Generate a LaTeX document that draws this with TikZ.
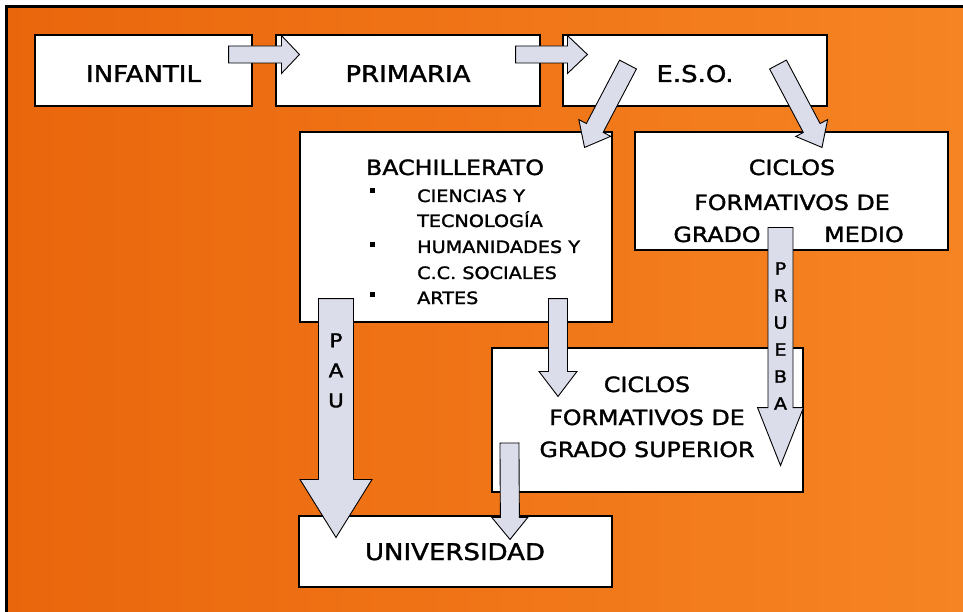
\documentclass[tikz,border=0pt]{standalone}
\usepackage{fontspec}
\setmainfont{DejaVu Sans}[FakeStretch=1.13,FakeBold=1.6]
\usetikzlibrary{calc}

\definecolor{naranja}{RGB}{234,102,12}
\definecolor{naranjaclaro}{RGB}{246,132,34}
\definecolor{flecha}{RGB}{219,221,235}

% flecha gruesa: cola, punta, medio ancho cuerpo, medio ancho punta, largo punta
\newcommand{\flechagorda}[5]{%
  \coordinate (hb) at ($(#2)!#5!(#1)$);
  \draw[fill=flecha,line width=0.9pt,line join=miter]
    ($(#1)!#3!90:(#2)$) -- ($(hb)!#3!90:(#2)$) -- ($(hb)!#4!90:(#2)$) -- (#2)
    -- ($(hb)!#4!-90:(#2)$) -- ($(hb)!#3!-90:(#2)$) -- ($(#1)!#3!-90:(#2)$) -- cycle;
}

\begin{document}
\begin{tikzpicture}[x=1pt,y=-1pt,
  caja/.style={rectangle,draw=black,line width=1.1pt,fill=white,inner sep=0pt},
  grande/.style={font=\fontsize{23}{27}\selectfont,inner sep=0pt,anchor=base},
  media/.style={font=\fontsize{21}{25}\selectfont,inner sep=0pt,anchor=base},
  chica/.style={font=\fontsize{17}{20}\selectfont,inner sep=0pt,anchor=base west},
  vineta/.style={rectangle,fill=black,minimum size=5pt,inner sep=0pt}]
\useasboundingbox (0,0) rectangle (963,612);
\fill[white] (0,0) rectangle (963,612);
\shade[left color=naranja,right color=naranjaclaro] (6,6) rectangle (963,612);
\draw[line width=3pt] (6.5,612) -- (6.5,7) -- (963,7);

% cajas
\node(INF) at (143.5,70.5) [caja,minimum width=217pt,minimum height=71pt]{};
\node(PRI) at (408,70.5) [caja,minimum width=264pt,minimum height=71pt]{};
\node(ESO) at (695,70.5) [caja,minimum width=264pt,minimum height=71pt]{};
\node(BAC) at (456,227) [caja,minimum width=312pt,minimum height=190pt]{};
\node(CFM) at (791.5,191) [caja,minimum width=313pt,minimum height=118pt]{};
\node(CFS) at (647.5,420) [caja,minimum width=311pt,minimum height=144pt]{};
\node(UNI) at (455.5,551.5) [caja,minimum width=313pt,minimum height=71pt]{};

% textos
\node(tINF) at (143.5,82) [grande]{INFANTIL};
\node(tPRI) at (408,82) [grande]{PRIMARIA};
\node(tESO) at (695,82) [grande]{E.S.O.};
\node(tBAC) at (455,175) [media]{BACHILLERATO};
\node(v1) at (372.5,190.5) [vineta]{};
\node(v2) at (372.5,244.5) [vineta]{};
\node(v3) at (372.5,294.5) [vineta]{};
\node(tB1) at (417,202) [chica]{CIENCIAS Y};
\node(tB2) at (417,227) [chica]{TECNOLOGÍA};
\node(tB3) at (417,253) [chica]{HUMANIDADES Y};
\node(tB4) at (417,279) [chica]{C.C. SOCIALES};
\node(tB5) at (417,304) [chica]{ARTES};
\node(tCFM1) at (792,175) [media]{CICLOS};
\node(tCFM2) at (792,210) [media]{FORMATIVOS DE};
\node(tCFM3) at (717,242) [media]{GRADO};
\node(tCFM4) at (864,242) [media]{MEDIO};
\node(tCFS1) at (647,392) [media]{CICLOS};
\node(tCFS2) at (647,425) [media]{FORMATIVOS DE};
\node(tCFS3) at (647,457) [media]{GRADO SUPERIOR};
\node(tUNI) at (455,560) [grande]{UNIVERSIDAD};

% flechas
\coordinate (f1a) at ($(INF.east)+(-24,-16)$);
\coordinate (f1b) at ($(PRI.west)+(24,-16)$);
\coordinate (f2a) at ($(PRI.east)+(-25,-16)$);
\coordinate (f2b) at ($(ESO.west)+(25,-16)$);
\coordinate (f3a) at ($(ESO.south)+(-67,-42)$);
\coordinate (f3b) at ($(BAC.north east)+(-28,16)$);
\coordinate (f4a) at ($(ESO.south)+(83,-42)$);
\coordinate (f4b) at ($(CFM.north)+(30.5,16)$);
\coordinate (f5a) at ($(BAC.south)+(102,-24)$);
\coordinate (f5b) at ($(CFS.north)+(-89.5,49)$);
\coordinate (pauA) at ($(BAC.south)+(-120,-24)$);
\coordinate (pauB) at ($(UNI.north)+(-119.5,22)$);
\coordinate (pruA) at ($(CFM.south)+(-11,-23)$);
\coordinate (pruB) at ($(CFS.south)+(133,-27)$);
\coordinate (f8a) at ($(CFS.west)+(18,23)$);
\coordinate (f8b) at ($(UNI.north)+(54.5,24)$);

\flechagorda{f1a}{f1b}{8.5pt}{19pt}{18pt}
\flechagorda{f2a}{f2b}{8.5pt}{19pt}{20pt}
\flechagorda{f3a}{f3b}{9.5pt}{18pt}{22pt}
\flechagorda{f4a}{f4b}{9.5pt}{18pt}{22pt}
\flechagorda{f5a}{f5b}{9.5pt}{19pt}{25pt}
\flechagorda{pauA}{pauB}{17.5pt}{36pt}{58pt}
\flechagorda{pruA}{pruB}{12.5pt}{23pt}{58pt}
\flechagorda{f8a}{f8b}{9.5pt}{18pt}{22pt}

\node(PAU) at (336,370.5) [font=\fontsize{19}{30}\selectfont,inner sep=0pt,align=center]{P\\A\\U};
\node(PRU) at (780.5,336) [font=\fontsize{17}{27}\selectfont,inner sep=0pt,align=center]{P\\R\\U\\E\\B\\A};
\end{tikzpicture}
\end{document}
